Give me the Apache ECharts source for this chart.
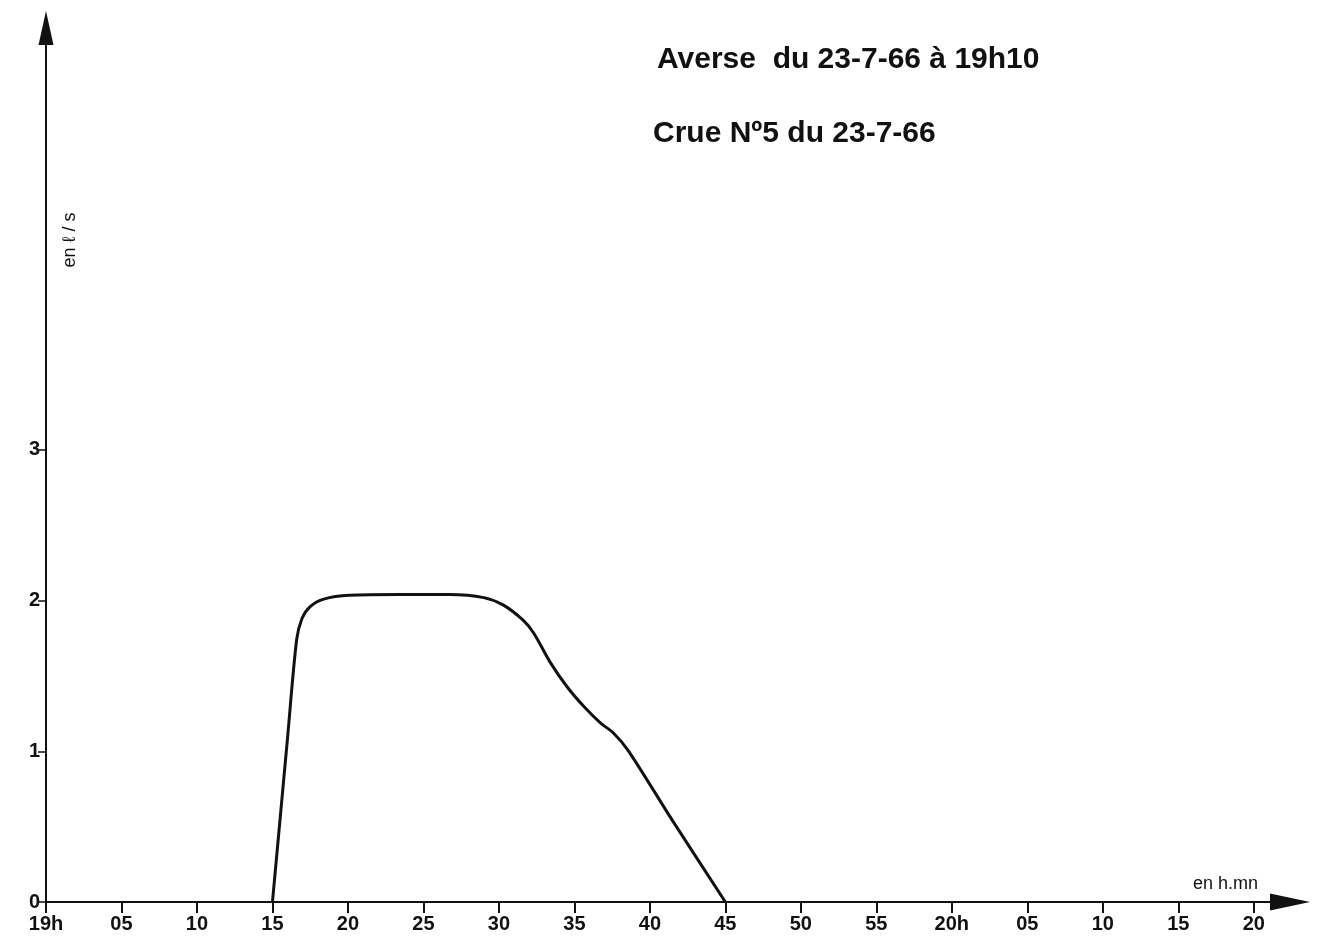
<!DOCTYPE html>
<html><head><meta charset="utf-8">
<script src="https://cdn.jsdelivr.net/npm/echarts@6/dist/echarts.min.js"></script>
<style>html,body{margin:0;padding:0;background:#fff}#c{width:1321px;height:949px}</style>
</head><body><div id="c"></div>
<script>
// time in minutes after 19h00
const minutes = [15.0, 16.0, 16.6, 16.95, 17.5, 18.4, 20.1, 23.4, 26.7, 29.0, 30.3, 31.6, 32.3, 33.4, 34.5, 35.6, 36.7, 37.6, 38.6, 41.5, 45.0];
const flow    = [0,    1.09, 1.74, 1.88,  1.96, 2.01, 2.035, 2.04, 2.04, 2.02, 1.97, 1.87, 1.785, 1.59, 1.43, 1.30, 1.19, 1.12, 1.0, 0.54, 0];
const xTickValues = [0,5,10,15,20,25,30,35,40,45,50,55,60,65,70,75,80];
const xTickLabels = ['19h','05','10','15','20','25','30','35','40','45','50','55','20h','05','10','15','20'];
const yTickValues = [0,1,2,3];
const yTickLabels = ['0','1','2','3'];
const titleLines = ['Averse  du 23-7-66 à 19h10', 'Crue Nº5 du 23-7-66'];
const yAxisName = 'en ℓ / s';
const xAxisName = 'en h.mn';

const chart = echarts.init(document.getElementById('c'), null, {renderer:'canvas'});
const labelFont = {color:'#111', fontFamily:'Liberation Sans', fontWeight:'bold', fontSize:20};
chart.setOption({
  backgroundColor:'#fff',
  animation:false,
  grid:{left:46, right:31, top:28, bottom:47, containLabel:false},
  xAxis:{
    type:'value', min:0, max:82.4,
    axisLine:{show:true, lineStyle:{color:'#111', width:2}, symbol:['none','triangle'], symbolSize:[17,40]},
    axisTick:{show:true, length:11, lineStyle:{color:'#111', width:2}, customValues:xTickValues},
    axisLabel:Object.assign({show:true, margin:12, customValues:xTickValues,
      formatter:v=>{const i=xTickValues.indexOf(Math.round(v)); return i>=0?xTickLabels[i]:'';}}, labelFont),
    splitLine:{show:false},
    name:xAxisName, nameLocation:'end', nameGap:0,
    nameTextStyle:{color:'#111', fontFamily:'Liberation Sans', fontSize:18, align:'right', verticalAlign:'bottom', padding:[0,32,9,0]}
  },
  yAxis:{
    type:'value', min:0, max:5.8,
    axisLine:{show:true, lineStyle:{color:'#111', width:2}, symbol:['none','triangle'], symbolSize:[15,34]},
    axisTick:{show:true, length:8, lineStyle:{color:'#111', width:1.5}, customValues:yTickValues},
    axisLabel:Object.assign({show:true, margin:6, customValues:yTickValues,
      formatter:v=>{const i=yTickValues.indexOf(Math.round(v)); return i>=0?yTickLabels[i]:'';}}, labelFont),
    splitLine:{show:false}
  },
  graphic:[
    {type:'text', x:657, y:60, style:{text:titleLines[0], fill:'#111', font:'bold 30px "Liberation Sans"', verticalAlign:'middle'}},
    {type:'text', x:653, y:134, style:{text:titleLines[1], fill:'#111', font:'bold 30px "Liberation Sans"', verticalAlign:'middle'}},
    {type:'text', x:70, y:240, rotation:Math.PI/2, style:{text:yAxisName, fill:'#111', font:'18px "Liberation Sans"', align:'center', verticalAlign:'middle'}}
  ],
  series:[{
    type:'line', data:minutes.map((m,i)=>[m,flow[i]]),
    showSymbol:false, smooth:0.3,
    lineStyle:{color:'#111', width:3}
  }]
});
</script></body></html>
